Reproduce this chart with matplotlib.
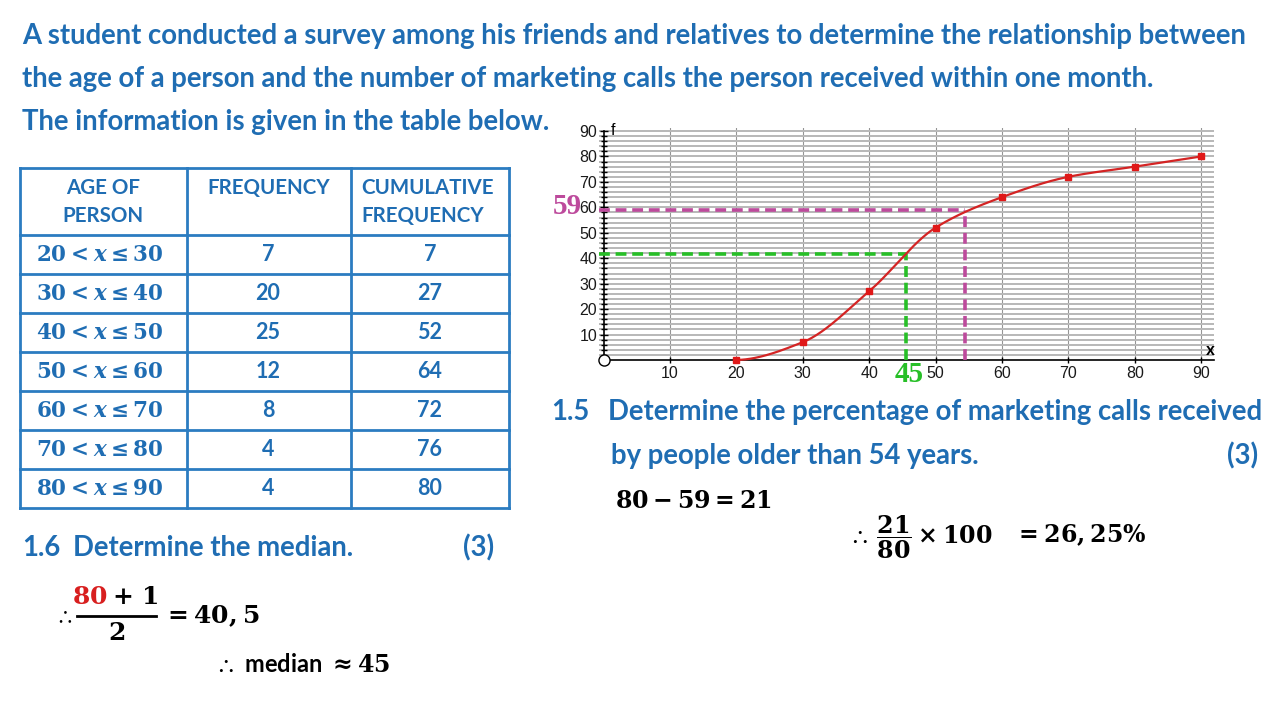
import numpy as np
import matplotlib
matplotlib.use("Agg")
import matplotlib.pyplot as plt

plt.rcParams['mathtext.fontset'] = 'custom'
plt.rcParams['mathtext.rm'] = 'DejaVu Serif:bold'
plt.rcParams['mathtext.it'] = 'DejaVu Serif:italic:bold'
plt.rcParams['mathtext.bf'] = 'DejaVu Serif:bold'
plt.rcParams['mathtext.fallback'] = 'stix'

# ---------------- data ----------------
title_lines = [
    "A student conducted a survey among his friends and relatives to determine the relationship between",
    "the age of a person and the number of marketing calls the person received within one month.",
    "The information is given in the table below.",
]
class_lower = [20, 30, 40, 50, 60, 70, 80]
class_upper = [30, 40, 50, 60, 70, 80, 90]
frequency = [7, 20, 25, 12, 8, 4, 4]
cumulative = [7, 27, 52, 64, 72, 76, 80]

ogive_x = [20, 30, 40, 50, 60, 70, 80, 90]
ogive_y = [0, 7, 27, 52, 64, 72, 76, 80]
x_ticks = [10, 20, 30, 40, 50, 60, 70, 80, 90]
y_ticks = [10, 20, 30, 40, 50, 60, 70, 80, 90]

median_read = (45.5, 41.5)     # (age, cumulative freq) of green guide
older54_read = (54.4, 59.0)    # (age, cumulative freq) of pink guide
median_label = "45"
older54_label = "59"

BLUE = '#1f6db3'
TBLUE = '#2b7cc1'
PINK = '#bd4a9c'
GREEN = '#27bf27'
RED = '#d42424'
SANS = 'Lato'
TS = 19.8  # slide text size

fig = plt.figure(figsize=(12.8, 7.2), dpi=100)
bg = fig.add_axes([0, 0, 1, 1])
bg.set_xlim(0, 1280)
bg.set_ylim(720, 0)
bg.axis('off')

def T(x, y, s, size=TS, color=BLUE, ha='left', va='center', family=SANS, weight='bold', **kw):
    return bg.text(x, y, s, fontsize=size, color=color, ha=ha, va=va,
                   family=family, fontweight=weight, **kw)

# title
for i, line in enumerate(title_lines):
    T(22, 36 + 43 * i, line)

# ---------------- table ----------------
col_x = [20, 187, 351, 509]
row_y = [168, 235] + [235 + 39 * (k + 1) for k in range(len(frequency))]
for x in col_x:
    bg.plot([x, x], [row_y[0], row_y[-1]], color=TBLUE, lw=2)
for y in row_y:
    bg.plot([col_x[0], col_x[-1]], [y, y], color=TBLUE, lw=2)

HS = 14.8
T(103, 188, "AGE OF", size=HS, ha='center')
T(103, 216, "PERSON", size=HS, ha='center')
T(269, 188, "FREQUENCY", size=HS, ha='center')
T(361, 188, "CUMULATIVE", size=HS)
T(361, 216, "FREQUENCY", size=HS)

for k in range(len(frequency)):
    yc = (row_y[k + 1] + row_y[k + 2]) / 2
    T(100, yc, r"$%d < x \leq %d$" % (class_lower[k], class_upper[k]),
      size=15.5, ha='center')
    T(268, yc, str(frequency[k]), size=15.5, ha='center')
    T(430, yc, str(cumulative[k]), size=15.5, ha='center')

# ---------------- 1.6 ----------------
T(22, 548, "1.6")
T(73, 548, "Determine the median.")
T(494, 548, "(3)", ha='right')
T(54, 616, r"$\therefore$", size=15, color='black')
T(108, 596, r"$80$", size=18, color='#d81f1f', ha='right')
T(112, 596, r"$+\ 1$", size=18, color='black', ha='left')
bg.plot([77, 156], [616, 616], color='black', lw=2)
T(117, 633, r"$2$", size=18, color='black', ha='center')
T(162, 616, r"$=40,5$", size=18, color='black')
T(214, 664, r"$\therefore$ median $\approx 45$", size=17, color='black')

# ---------------- 1.5 ----------------
T(551, 412, "1.5")
T(608, 412, "Determine the percentage of marketing calls received")
T(611, 456, "by people older than 54 years.")
T(1258, 456, "(3)", ha='right')
T(615, 500, r"$80-59=21$", size=17, color='black')
T(848, 537, r"$\therefore\,\dfrac{21}{80}\times 100$", size=17, color='black')
T(1014, 535, r"$=26,25\%$", size=17, color='black')

# ---------------- graph ----------------
px0, py0 = 603.5, 360.0
ux, uy = 6.64, 2.544
left_px, right_px, top_px = 599, 1214, 128
ax = fig.add_axes([left_px / 1280, (720 - py0) / 720,
                   (right_px - left_px) / 1280, (py0 - top_px) / 720])
ax.set_xlim((left_px - px0) / ux, (right_px - px0) / ux)
ax.set_ylim(0, (py0 - top_px) / uy)
ax.patch.set_alpha(0)

ax.set_xticks(x_ticks)
ax.set_yticks(y_ticks)
ax.set_yticks(np.arange(2, 91, 2), minor=True)
ax.yaxis.grid(True, which='both', color='#b8b8b8', lw=1.4)
ax.xaxis.grid(True, which='major', color='#959595', lw=0.8)
ax.set_axisbelow(True)
for s in ['top', 'right']:
    ax.spines[s].set_visible(False)
ax.spines['left'].set_position(('data', 0))
ax.spines['left'].set_bounds(0, 90)
ax.spines['bottom'].set_bounds(0, ax.get_xlim()[1])
for s in ['left', 'bottom']:
    ax.spines[s].set_color('black')
    ax.spines[s].set_linewidth(1.2)
ax.tick_params(axis='y', which='major', direction='inout', length=6, width=1, pad=1.5,
               labelsize=11.5, labelcolor='#1a1a1a')
ax.tick_params(axis='y', which='minor', direction='inout', length=5, width=1)
ax.tick_params(axis='x', which='major', direction='inout', length=4, width=1, pad=2.5,
               labelsize=11.5, labelcolor='#1a1a1a')
for lab in ax.get_xticklabels() + ax.get_yticklabels():
    lab.set_family('Liberation Sans')

ax.text(1.1, 90.3, "f", fontsize=11.5, family='Liberation Sans', va='center', ha='left')
ax.text(91.4, 3.6, "x", fontsize=11.5, family='Liberation Sans', va='center', ha='center',
        fontweight='bold')
ax.plot([0], [0], marker='o', ms=8, mfc='white', mec='black', mew=1, clip_on=False, zorder=6)

# smooth monotone curve through the ogive points
def pchip(x, y, xs):
    x = np.asarray(x, float); y = np.asarray(y, float)
    h = np.diff(x); d = np.diff(y) / h
    n = len(x); m = np.zeros(n)
    for k in range(1, n - 1):
        if d[k - 1] * d[k] > 0:
            w1 = 2 * h[k] + h[k - 1]; w2 = h[k] + 2 * h[k - 1]
            m[k] = (w1 + w2) / (w1 / d[k - 1] + w2 / d[k])
    m[0] = max(0.0, ((2 * h[0] + h[1]) * d[0] - h[0] * d[1]) / (h[0] + h[1]))
    m[-1] = max(0.0, ((2 * h[-1] + h[-2]) * d[-1] - h[-1] * d[-2]) / (h[-1] + h[-2]))
    idx = np.clip(np.searchsorted(x, xs) - 1, 0, n - 2)
    t = (xs - x[idx]) / h[idx]
    h00 = 2 * t**3 - 3 * t**2 + 1; h10 = t**3 - 2 * t**2 + t
    h01 = -2 * t**3 + 3 * t**2; h11 = t**3 - t**2
    return h00 * y[idx] + h10 * h[idx] * m[idx] + h01 * y[idx + 1] + h11 * h[idx] * m[idx + 1]

xs = np.linspace(ogive_x[0], ogive_x[-1], 400)
ax.plot(xs, pchip(ogive_x, ogive_y, xs), color=RED, lw=1.6, zorder=4, clip_on=False)
ax.plot(ogive_x, ogive_y, 's', color='#e01818', ms=5, zorder=5, clip_on=False)

x_left = ax.get_xlim()[0]
dash = (0, (3, 1.6))
ax.plot([x_left, median_read[0]], [median_read[1]] * 2, color=GREEN, lw=2.6, ls=dash, zorder=3)
ax.plot([median_read[0]] * 2, [0, median_read[1]], color=GREEN, lw=2.6, ls=dash, zorder=3)
ax.plot([x_left, older54_read[0]], [older54_read[1]] * 2, color=PINK, lw=2.6, ls=dash, zorder=3)
ax.plot([older54_read[0]] * 2, [0, older54_read[1]], color=PINK, lw=2.6, ls=dash, zorder=3)

bg.text(582, 207, older54_label, fontsize=21, color=PINK, family='Liberation Serif',
        fontweight='bold', ha='right', va='center')
bg.text(909, 374, median_label, fontsize=21, color=GREEN, family='Liberation Serif',
        fontweight='bold', ha='center', va='center')

fig.savefig("out.png", dpi=100)
